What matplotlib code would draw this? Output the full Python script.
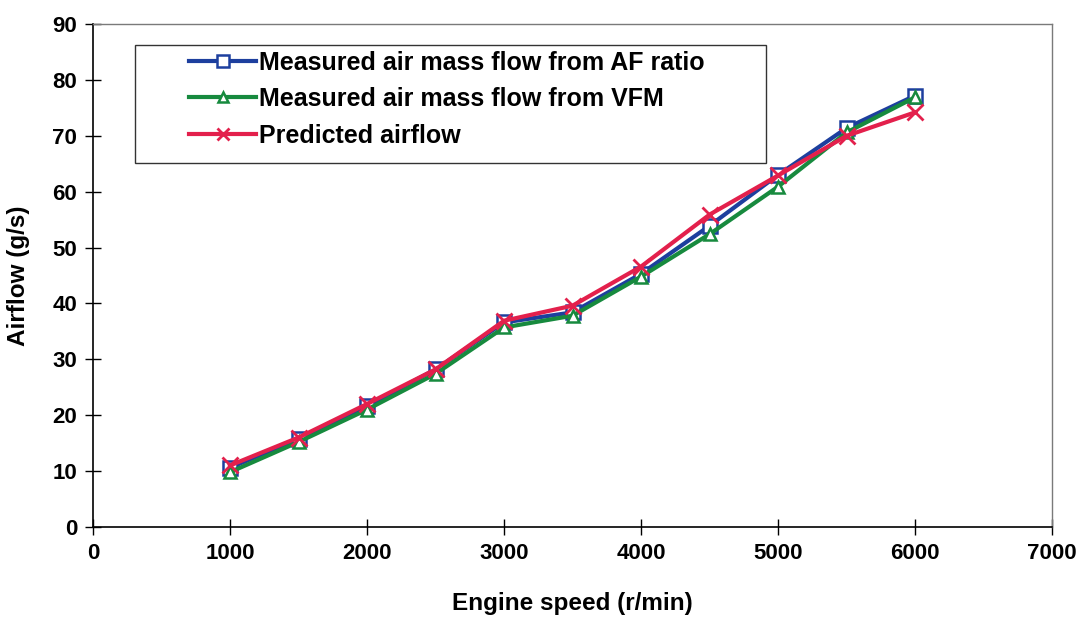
"""Airflow vs engine speed: measured (AF ratio, VFM) and predicted."""

import matplotlib

matplotlib.use("Agg")
import matplotlib.pyplot as plt
from matplotlib.patches import Rectangle

plt.rcParams["font.family"] = ["Liberation Sans", "DejaVu Sans"]
plt.rcParams["font.weight"] = "bold"

# data
speed = [1000, 1500, 2000, 2500, 3000, 3500, 4000, 4500, 5000, 5500, 6000]
af_ratio = [10.6, 15.7, 21.6, 28.2, 36.6, 38.4, 45.3, 53.9, 63.0, 71.4, 77.2]
vfm = [9.8, 15.2, 21.0, 27.4, 35.7, 37.8, 44.8, 52.4, 60.9, 70.6, 76.9]
predicted = [11.0, 16.0, 22.0, 28.2, 36.9, 39.6, 46.6, 55.9, 62.9, 70.0, 74.2]

labels = [
    "Measured air mass flow from AF ratio",
    "Measured air mass flow from VFM",
    "Predicted airflow",
]
xticks = list(range(0, 7001, 1000))
yticks = list(range(0, 91, 10))

BLUE = "#1d3f9e"
GREEN = "#178a3e"
RED = "#e3204c"

fig = plt.figure(figsize=(10.85, 6.17), dpi=100)
ax = fig.add_axes([0.0857, 0.146, 0.884, 0.815])

ax.plot(speed, af_ratio, color=BLUE, lw=3.0, marker="s", ms=10,
        mfc="white", mec=BLUE, mew=1.8, label=labels[0])
ax.plot(speed, vfm, color=GREEN, lw=3.0, marker="^", ms=9,
        mfc="white", mec=GREEN, mew=1.8, label=labels[1])
ax.plot(speed, predicted, color=RED, lw=3.0, marker="x", ms=11,
        mec=RED, mew=2.0, label=labels[2])

ax.set_xlim(0, 7000)
ax.set_ylim(0, 90)
ax.set_xticks(xticks)
ax.set_yticks(yticks)
ax.tick_params(direction="inout", length=11, width=1, labelsize=16)
ax.tick_params(axis="x", pad=6)
ax.tick_params(axis="y", pad=6)

for side in ("left", "bottom"):
    ax.spines[side].set_color("black")
    ax.spines[side].set_linewidth(1.2)
for side in ("top", "right"):
    ax.spines[side].set_color("#7a7a7a")
    ax.spines[side].set_linewidth(1.0)

ax.set_xlabel("Engine speed (r/min)", fontsize=17.5, fontweight="bold", labelpad=20)
ax.set_ylabel("Airflow (g/s)", fontsize=17.5, fontweight="bold", labelpad=16)

# Excel-style legend: frame drawn separately, entries set to the right
ax.add_patch(Rectangle((0.044, 0.723), 0.658, 0.235, transform=ax.transAxes,
                       fill=False, edgecolor="#333333", lw=1.0, zorder=5))
ax.legend(loc="upper left", bbox_to_anchor=(0.1, 0.947), frameon=False,
          borderpad=0, borderaxespad=0, handlelength=2.7,
          handletextpad=0.12, labelspacing=0.5, markerscale=0.8,
          prop={"weight": "bold", "size": 18})

fig.savefig("out.png", dpi=100, facecolor="white")
